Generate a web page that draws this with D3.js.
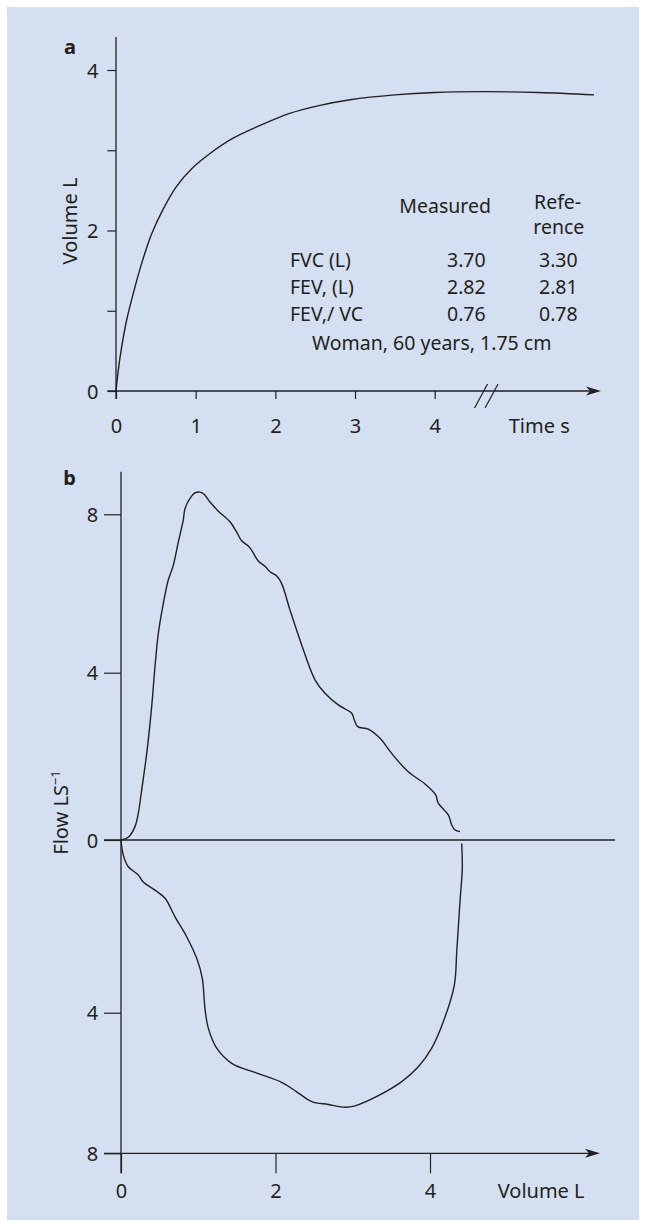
<!DOCTYPE html>
<html>
<head>
<meta charset="utf-8">
<script src="https://cdn.jsdelivr.net/npm/d3@7"></script>
<style>
body { margin: 0; background: #fff; }
text { font-family: "Noto Sans", sans-serif; fill: #231f20; }
</style>
</head>
<body>
<svg id="chart" width="645" height="1222"></svg>
<script>
// panel a : volume-time curve
var timeSec = [0, 0.029, 0.071, 0.134, 0.217, 0.322, 0.448, 0.594, 0.76, 0.95, 1.18, 1.47, 1.81, 2.18, 2.56, 2.94, 3.5, 4.0, 4.6, 5.3, 6.0];
var volumeL = [0, 0.26, 0.55, 0.885, 1.217, 1.59, 1.96, 2.27, 2.55, 2.77, 2.96, 3.15, 3.31, 3.46, 3.56, 3.63, 3.69, 3.72, 3.73, 3.72, 3.69];
var timeTicks = [0, 1, 2, 3, 4];
var volTicksA = [0, 1, 2, 3, 4];

// table in panel a
var rowNames = ["FVC (L)", "FEV, (L)", "FEV,/ VC"];
var measured = ["3.70", "2.82", "0.76"];
var reference = ["3.30", "2.81", "0.78"];
var subject = "Woman, 60 years, 1.75 cm";

// panel b : flow-volume loop
var expVolume = [0, 0.094, 0.181, 0.224, 0.268, 0.333, 0.397, 0.44, 0.483, 0.548, 0.612, 0.677, 0.742, 0.806, 0.828, 0.893, 0.958, 1.023, 1.078, 1.152, 1.26, 1.411, 1.498, 1.562, 1.648, 1.692, 1.777, 1.864, 1.929, 2.016, 2.08, 2.188, 2.339, 2.511, 2.641, 2.813, 2.986, 3.02, 3.064, 3.201, 3.353, 3.504, 3.719, 3.935, 4.074, 4.107, 4.237, 4.281, 4.324, 4.388];
var expFlow = [0, 0.065, 0.32, 0.64, 1.2, 2.07, 3.19, 4.15, 4.99, 5.75, 6.34, 6.71, 7.3, 7.85, 8.14, 8.4, 8.54, 8.56, 8.5, 8.31, 8.08, 7.81, 7.55, 7.33, 7.2, 7.09, 6.82, 6.69, 6.55, 6.44, 6.25, 5.58, 4.7, 3.83, 3.51, 3.23, 3.03, 2.87, 2.71, 2.65, 2.43, 2.07, 1.63, 1.34, 1.08, 0.88, 0.6, 0.36, 0.24, 0.2];
var inspVolume = [0, 0.03, 0.094, 0.224, 0.288, 0.44, 0.57, 0.699, 0.85, 0.98, 1.052, 1.087, 1.13, 1.239, 1.433, 1.735, 2.08, 2.274, 2.469, 2.684, 2.9, 3.029, 3.331, 3.634, 3.849, 4.022, 4.172, 4.315, 4.346, 4.388, 4.418, 4.41];
var inspFlow = [0, -0.35, -0.62, -0.81, -0.97, -1.16, -1.35, -1.78, -2.24, -2.74, -3.2, -3.9, -4.44, -5.01, -5.44, -5.7, -5.98, -6.25, -6.53, -6.61, -6.69, -6.65, -6.36, -5.96, -5.54, -5.01, -4.26, -3.36, -2.59, -1.43, -0.66, -0.08];
var flowTicks = [8, 4, 0, -4, -8];
var volTicksB = [0, 2, 4];

var ink = "#231f20";
var svg = d3.select("#chart");

svg.append("rect")
	.attr("x", 7).attr("y", 7)
	.attr("width", 632).attr("height", 1213)
	.attr("fill", "#d4e0f1");

function arrow (tx, ty) {
	svg.append("path")
		.attr("d", "M" + tx + "," + ty + "L" + (tx - 15) + "," + (ty - 4.5) + "L" + (tx - 11) + "," + ty + "L" + (tx - 15) + "," + (ty + 4.5) + "Z")
		.attr("fill", ink);
}
function hline (x1, x2, y) {
	svg.append("line").attr("x1", x1).attr("x2", x2).attr("y1", y).attr("y2", y)
		.attr("stroke", ink).attr("stroke-width", 1.3);
}
function vline (x, y1, y2) {
	svg.append("line").attr("x1", x).attr("x2", x).attr("y1", y1).attr("y2", y2)
		.attr("stroke", ink).attr("stroke-width", 1.3);
}
function styleAxis (g) {
	g.select(".domain").remove();
	g.selectAll(".tick line").attr("stroke", ink).attr("stroke-width", 1.2);
	g.selectAll(".tick text").attr("fill", ink).attr("font-size", 20).attr("font-family", "Noto Sans");
}

// ---------- panel a ----------
var xA = d3.scaleLinear().domain([0, 4]).range([116, 434.7]);
var yA = d3.scaleLinear().domain([0, 4]).range([391, 70]);

vline(xA(0), 37, 399);
hline(107.5, 590, yA(0));
arrow(601, yA(0));

var gyA = svg.append("g").attr("transform", "translate(" + xA(0) + ",0)")
	.call(d3.axisLeft(yA).tickValues(volTicksA).tickSize(8.6).tickPadding(9)
		.tickFormat(function (d) { return d % 2 === 0 ? d : ""; }));
styleAxis(gyA);
gyA.selectAll(".tick text").attr("dy", "0.36em");

var gxA = svg.append("g").attr("transform", "translate(0," + yA(0) + ")")
	.call(d3.axisBottom(xA).tickValues(timeTicks).tickSize(8).tickPadding(8)
		.tickFormat(d3.format("d")));
styleAxis(gxA);
gxA.selectAll(".tick text").attr("y", 42).attr("dy", null);

// axis break
var bx = xA(4.5);
[0, 10.5].forEach(function (o) {
	svg.append("line")
		.attr("x1", bx + o).attr("y1", 408).attr("x2", bx + o + 13).attr("y2", 384)
		.attr("stroke", ink).attr("stroke-width", 1.2);
});

svg.append("text").attr("x", 508.7).attr("y", 433).attr("font-size", 20).text("Time s");
svg.append("text").attr("transform", "translate(76.7,221) rotate(-90)")
	.attr("text-anchor", "middle").attr("font-size", 20).text("Volume L");
svg.append("text").attr("x", 64).attr("y", 54).attr("font-size", 20).attr("font-weight", "bold").text("a");

var spiro = timeSec.map(function (t, i) { return [t, volumeL[i]]; });
svg.append("path")
	.datum(spiro)
	.attr("fill", "none").attr("stroke", ink).attr("stroke-width", 1.4)
	.attr("d", d3.line()
		.x(function (d) { return xA(d[0]); })
		.y(function (d) { return yA(d[1]); })
		.curve(d3.curveCatmullRom.alpha(0.5)));

// table
var tfs = 19.5;
svg.append("text").attr("x", 399.3).attr("y", 213.3).attr("font-size", tfs).text("Measured");
svg.append("text").attr("x", 534).attr("y", 209.3).attr("font-size", tfs).text("Refe-");
svg.append("text").attr("x", 533.3).attr("y", 234.3).attr("font-size", tfs).text("rence");
var rowY = [267.3, 294, 320.7];
rowNames.forEach(function (name, i) {
	svg.append("text").attr("x", 290).attr("y", rowY[i]).attr("font-size", tfs).text(name);
	svg.append("text").attr("x", 485.7).attr("y", rowY[i]).attr("font-size", tfs)
		.attr("text-anchor", "end").text(measured[i]);
	svg.append("text").attr("x", 577.7).attr("y", rowY[i]).attr("font-size", tfs)
		.attr("text-anchor", "end").text(reference[i]);
});
svg.append("text").attr("x", 431.7).attr("y", 350).attr("font-size", tfs)
	.attr("text-anchor", "middle").text(subject);

// ---------- panel b ----------
var xB = d3.scaleLinear().domain([0, 4]).range([121, 430]);
var yB = d3.scaleLinear().domain([-8, -4, 0, 4, 8]).range([1153.3, 1012.7, 840, 672.7, 514.3]);

vline(xB(0), 471.7, 1173.3);
hline(104, 615, yB(0));
hline(104, 589, yB(-8));
arrow(600, yB(-8));

var gyB = svg.append("g").attr("transform", "translate(" + xB(0) + ",0)")
	.call(d3.axisLeft(yB).tickValues(flowTicks).tickSize(17).tickPadding(5.7)
		.tickFormat(function (d) { return Math.abs(d); }));
styleAxis(gyB);
gyB.selectAll(".tick text").attr("dy", "0.36em");

var gxB = svg.append("g").attr("transform", "translate(0," + yB(-8) + ")")
	.call(d3.axisBottom(xB).tickValues(volTicksB).tickSize(20).tickPadding(10)
		.tickFormat(d3.format("d")));
styleAxis(gxB);
gxB.selectAll(".tick text").attr("y", 44.4).attr("dy", null);

svg.append("text").attr("x", 497.7).attr("y", 1197.7).attr("font-size", 20).text("Volume L");
var fl = svg.append("text").attr("transform", "translate(68.3,812.5) rotate(-90)")
	.attr("text-anchor", "middle").attr("font-size", 20);
fl.append("tspan").text("Flow LS");
fl.append("tspan").attr("dy", -8).attr("font-size", 13).text("\u22121");
svg.append("text").attr("x", 63.3).attr("y", 485).attr("font-size", 20).attr("font-weight", "bold").text("b");

var loopLine = d3.line()
	.x(function (d) { return xB(d[0]); })
	.y(function (d) { return yB(d[1]); })
	.curve(d3.curveCatmullRom.alpha(0.5));

svg.append("path")
	.datum(expVolume.map(function (v, i) { return [v, expFlow[i]]; }))
	.attr("fill", "none").attr("stroke", ink).attr("stroke-width", 1.4)
	.attr("d", loopLine);
svg.append("path")
	.datum(inspVolume.map(function (v, i) { return [v, inspFlow[i]]; }))
	.attr("fill", "none").attr("stroke", ink).attr("stroke-width", 1.4)
	.attr("d", loopLine);
</script>
</body>
</html>
